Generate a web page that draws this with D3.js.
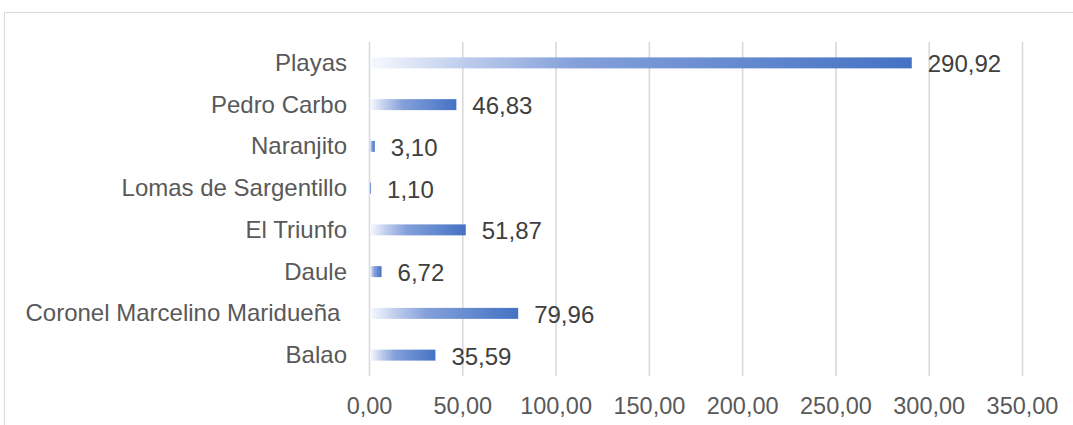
<!DOCTYPE html>
<html>
<head>
<meta charset="utf-8">
<script src="https://cdn.jsdelivr.net/npm/d3@7"></script>
<style>
  body { margin: 0; background: #fff; }
  svg { display: block; font-family: "Liberation Sans", Arial, sans-serif; }
</style>
</head>
<body>
<svg id="chart" width="1073" height="425"></svg>
<script>
// note: the source label for Coronel M. M. carries a trailing space
const categories = ["Playas", "Pedro Carbo", "Naranjito", "Lomas de Sargentillo",
  "El Triunfo", "Daule", "Coronel Marcelino Maridueña ", "Balao"];
const values = [290.92, 46.83, 3.10, 1.10, 51.87, 6.72, 79.96, 35.59];
const xTicks = [0, 50, 100, 150, 200, 250, 300, 350];

const data = categories.map((c, i) => ({ name: c, value: values[i] }));

const margin = {top: 42, right: 51, bottom: 49, left: 369};
const width = 1073 - margin.left - margin.right;
const height = 425 - margin.top - margin.bottom;

const locale = d3.formatLocale({decimal: ",", thousands: ".", grouping: [3], currency: ["", ""]});
const fmt = locale.format(".2f");

const svg = d3.select("#chart");

// outer chart frame (runs off the right/bottom edge)
svg.append("rect")
  .attr("x", 4.5).attr("y", 12.5)
  .attr("width", 1200).attr("height", 500)
  .attr("fill", "none")
  .attr("stroke", "#d9d9d9")
  .attr("stroke-width", 1);

const defs = svg.append("defs");
const grad = defs.append("linearGradient")
  .attr("id", "barGrad")
  .attr("x1", "0%").attr("x2", "100%")
  .attr("y1", "0%").attr("y2", "0%");
grad.append("stop").attr("offset", "0%").attr("stop-color", "#f7f9fd");
grad.append("stop").attr("offset", "18%").attr("stop-color", "#bccbec");
grad.append("stop").attr("offset", "38%").attr("stop-color", "#84a0da");
grad.append("stop").attr("offset", "100%").attr("stop-color", "#4472c4");

const x = d3.scaleLinear()
  .domain([0, 350])
  .range([0, width]);

const y = d3.scaleBand()
  .domain(categories)
  .range([0, height])
  .paddingInner(0.737)
  .paddingOuter(0.737 / 2);

const g = svg.append("g").attr("transform", `translate(${margin.left},${margin.top})`);

const xAxis = g.append("g")
  .attr("transform", `translate(0,${height})`)
  .call(d3.axisBottom(x).tickValues(xTicks).tickSize(-height).tickPadding(21).tickFormat(fmt));
xAxis.select(".domain").remove();
xAxis.selectAll(".tick line")
  .attr("stroke", "#d9d9d9")
  .attr("stroke-width", 1.6);
xAxis.selectAll(".tick text")
  .attr("fill", "#595959")
  .style("font-size", "23.5px");

g.selectAll(".bar")
  .data(data)
  .join("rect")
  .attr("class", "bar")
  .attr("x", x(0) + 1)
  .attr("y", d => y(d.name))
  .attr("width", d => Math.max(0, x(d.value) - x(0) - 1))
  .attr("height", y.bandwidth())
  .attr("fill", "url(#barGrad)");

g.selectAll(".val")
  .data(data)
  .join("text")
  .attr("class", "val")
  .attr("x", d => x(d.value) + 16)
  .attr("y", d => y(d.name) + y.bandwidth() / 2)
  .attr("dy", "0.4em")
  .attr("fill", "#404040")
  .style("font-size", "24px")
  .text(d => fmt(d.value));

g.selectAll(".cat")
  .data(data)
  .join("text")
  .attr("class", "cat")
  .attr("x", -22)
  .attr("y", d => y(d.name) + y.bandwidth() / 2)
  .attr("dy", "0.33em")
  .attr("text-anchor", "end")
  .attr("fill", "#595959")
  .style("font-size", "24px")
  .style("white-space", "pre")
  .text(d => d.name);
</script>
</body>
</html>
